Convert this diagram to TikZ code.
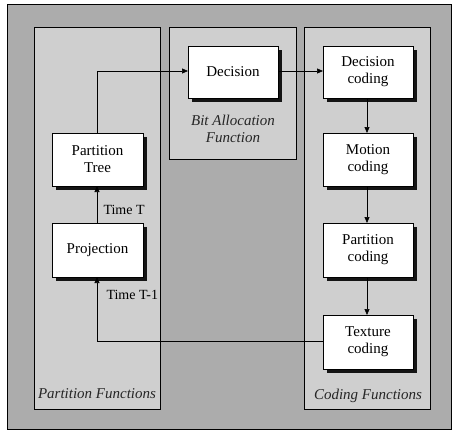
\documentclass[tikz,border=0pt]{standalone}
\usepackage{fontspec}
\setmainfont{Liberation Serif}
\usetikzlibrary{shadows,arrows.meta}
\begin{document}
\begin{tikzpicture}[x=1pt,y=-1pt,
  panel/.style={draw=black,line width=0.6pt,fill=gray!38},
  blk/.style={draw=black,line width=0.7pt,fill=white,
    drop shadow={shadow xshift=4pt,shadow yshift=-4pt,fill=black,opacity=0.9}},
  btext/.style={font=\fontsize{15}{17}\selectfont,align=center},
  conn/.style={draw=black,line width=0.6pt,-{Triangle[length=6pt,width=5pt]}},
  plabel/.style={font=\fontsize{15}{17}\selectfont\itshape,align=center,text=black!85},
  tlabel/.style={font=\fontsize{14}{16}\selectfont,anchor=west}]
\useasboundingbox (0,0) rectangle (453,431);
\fill[white] (0,0) rectangle (453,431);
\draw[fill=gray!65,line width=0.6pt] (7,4) rectangle (451,429);
% panels
\draw[panel] (34,27) rectangle (160,409);
\draw[panel] (169,27) rectangle (296,159);
\draw[panel] (304,27) rectangle (430,409);
% boxes
\path[blk] (188,46) rectangle (278,98);
\node[btext] (dec) at (233,72) {Decision};
\path[blk] (323,46) rectangle (413,98);
\node[btext] (dc) at (368,72) {Decision\\coding};
\path[blk] (323,133) rectangle (413,186);
\node[btext] (mc) at (368,159.5) {Motion\\coding};
\path[blk] (323,223) rectangle (413,277);
\node[btext] (pc) at (368,250) {Partition\\coding};
\path[blk] (323,315) rectangle (413,369);
\node[btext] (tc) at (368,342) {Texture\\coding};
\path[blk] (52,133) rectangle (143,186);
\node[btext] (pt) at (97.5,159.5) {Partition\\Tree};
\path[blk] (52,223) rectangle (143,277);
\node[btext] (pr) at (97.5,250) {Projection};
% coordinates of box edges
\coordinate (decL) at (188,71);
\coordinate (decR) at (278,71);
\coordinate (dcL) at (323,71);
\coordinate (dcB) at (367,98);
\coordinate (mcT) at (367,133);
\coordinate (mcB) at (367,186);
\coordinate (pcT) at (367,223);
\coordinate (pcB) at (367,277);
\coordinate (tcT) at (367,315);
\coordinate (tcL) at (323,341);
\coordinate (ptT) at (97,133);
\coordinate (ptB) at (97,186);
\coordinate (prT) at (97,223);
\coordinate (prB) at (97,277);
\coordinate (c1) at (97,71);
\coordinate (c2) at (97,341);
% connectors
\draw[conn] (ptT) -- (c1) -- (decL);
\draw[conn] (decR) -- (dcL);
\draw[conn] (dcB) -- (mcT);
\draw[conn] (mcB) -- (pcT);
\draw[conn] (pcB) -- (tcT);
\draw[conn] (prT) -- (ptB);
\draw[conn] (tcL) -- (c2) -- (prB);
% labels
\node[tlabel] (tT) at (100,210) {Time T};
\node[tlabel] (tT1) at (103,295) {Time T-1};
\node[plabel] (pf) at (97,394) {Partition Functions};
\node[plabel] (ba) at (233,129) {Bit Allocation\\Function};
\node[plabel] (cf) at (368,396) {Coding Functions};
\end{tikzpicture}
\end{document}
